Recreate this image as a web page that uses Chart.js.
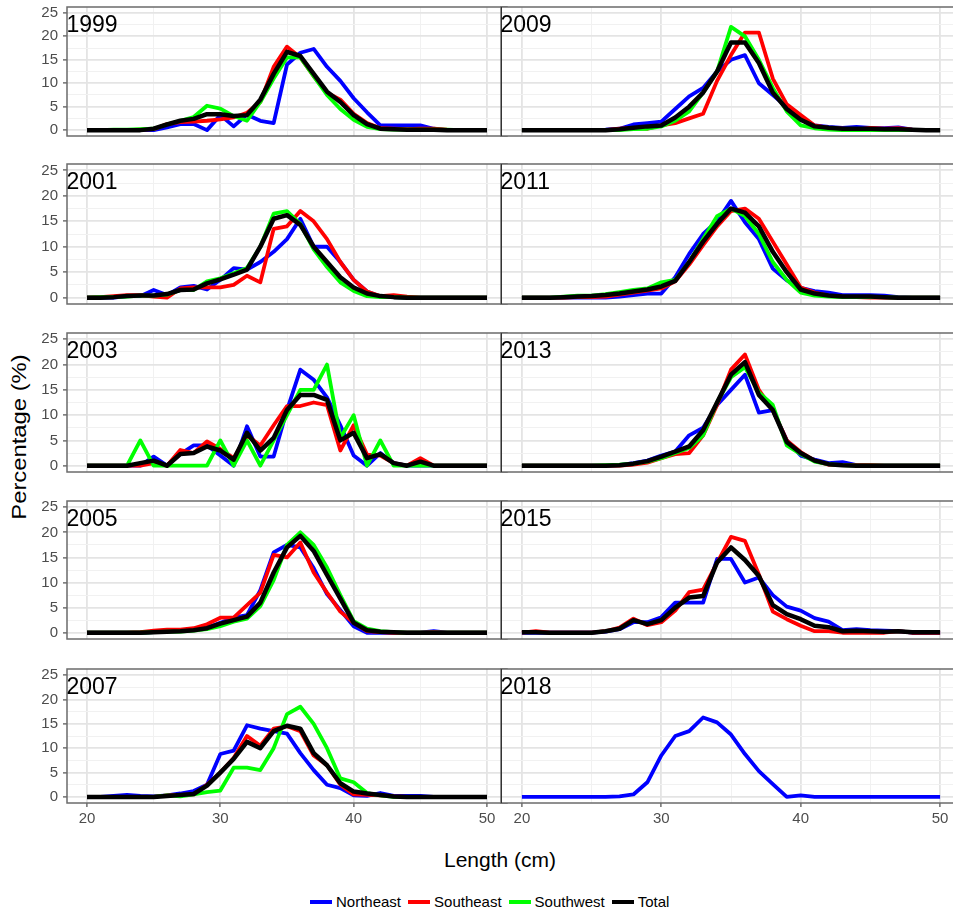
<!DOCTYPE html>
<html>
<head>
<meta charset="utf-8">
<title>Length frequency by region</title>
<script src="https://cdn.jsdelivr.net/npm/chart.js@4.4.1/dist/chart.umd.min.js"></script>
<style>
  html, body { margin: 0; padding: 0; background: #fff; overflow: hidden; }
  body { width: 953px; height: 915px; position: relative; font-family: "Liberation Sans", Arial, sans-serif; }
  canvas { position: absolute; }
  .year { position: absolute; font-size: 23px; line-height: 23px; color: #000; z-index: 5; white-space: nowrap; }
  #xTitle { position: absolute; left: 400px; width: 200px; top: 849px; text-align: center; font-size: 21px; line-height: 21px; color: #000; }
  #yTitle { position: absolute; left: -81px; width: 200px; top: 427px; height: 20px; text-align: center; font-size: 20px; line-height: 20px; color: #000; transform: rotate(-90deg) scaleX(1.19); }
  #legend { position: absolute; left: 310px; top: 893px; display: flex; align-items: center; font-size: 15px; line-height: 18px; color: #000; }
  #legend .key { display: inline-block; width: 22px; height: 4px; margin-right: 4px; }
  #legend .name { margin-right: 7px; }
</style>
</head>
<body>
<div id="xTitle">Length (cm)</div>
<div id="yTitle">Percentage (%)</div>
<div id="legend"></div>
<script>
// Length classes (cm) and axis ticks
const lengths = [20, 21, 22, 23, 24, 25, 26, 27, 28, 29, 30, 31, 32, 33, 34, 35, 36, 37, 38, 39, 40, 41, 42, 43, 44, 45, 46, 47, 48, 49, 50];
const xTicks = [20, 30, 40, 50];
const yTicks = [0, 5, 10, 15, 20, 25];
const regions = ['Northeast', 'Southeast', 'Southwest', 'Total'];
const regionColors = ['#0000ff', '#ff0000', '#00ff00', '#000000'];

// 1999
const northeast1999 = [0, 0, 0, 0, 0, 0, 0.6, 1.3, 1.3, 0, 3.2, 0.8, 3.3, 2.0, 1.5, 14, 16.5, 17.3, 13.5, 10.5, 6.8, 3.8, 1.0, 1.0, 1.0, 1.0, 0.3, 0, 0, 0, 0];
const southeast1999 = [0, 0, 0, 0, 0.1, 0.2, 1.3, 1.7, 1.8, 2.0, 2.3, 2.7, 3.7, 6, 13.5, 17.8, 15.5, 11.5, 8, 6.5, 3.5, 1.5, 0.4, 0.3, 0.2, 0.3, 0.3, 0.1, 0, 0, 0];
const southwest1999 = [0, 0, 0.1, 0.1, 0.2, 0.3, 1.2, 2, 2.8, 5.2, 4.6, 3.0, 2.0, 6, 11, 15.5, 15.5, 11.5, 7.5, 4.5, 2.2, 0.7, 0.2, 0.1, 0.1, 0.1, 0.1, 0.1, 0, 0, 0];
const total1999 = [0, 0, 0, 0, 0, 0.3, 1.2, 2.0, 2.4, 3.4, 3.4, 3.0, 3.2, 6.5, 12, 16.7, 15.8, 12, 8.2, 6, 3.2, 1.3, 0.3, 0.2, 0.1, 0.1, 0.1, 0, 0, 0, 0];

// 2001
const northeast2001 = [0, 0, 0, 0.3, 0.3, 1.5, 0.5, 2.0, 2.3, 1.6, 3.5, 5.8, 5.5, 7, 9, 11.5, 15.5, 10, 10, 7, 3.5, 1.2, 0.2, 0.1, 0, 0, 0, 0, 0, 0, 0];
const southeast2001 = [0, 0.1, 0.3, 0.5, 0.5, 0.2, 0, 1.8, 2, 2, 2, 2.5, 4.3, 3, 13.5, 14, 17, 15, 11.5, 7, 3.5, 1.2, 0.3, 0.5, 0.2, 0, 0, 0, 0, 0, 0];
const southwest2001 = [0, 0.1, 0.1, 0.2, 0.4, 0.4, 0.6, 1.5, 1.5, 3.2, 3.8, 4.8, 5.8, 10, 16.5, 17, 14.5, 9.5, 6, 3, 1.3, 0.3, 0.1, 0.1, 0, 0, 0, 0, 0, 0, 0];
const total2001 = [0, 0, 0.1, 0.3, 0.4, 0.4, 0.7, 1.5, 1.6, 2.8, 3.6, 4.5, 5.5, 10, 15.5, 16.2, 14.3, 10, 7, 4, 2, 0.8, 0.3, 0.1, 0, 0, 0, 0, 0, 0, 0];

// 2003
const northeast2003 = [0, 0, 0, 0, 0, 1.8, 0, 2.3, 4, 4, 2, 0, 7.8, 1.8, 1.8, 11, 19, 17, 13.5, 8, 2, 0, 2.5, 0.5, 0, 0, 0, 0, 0, 0, 0];
const southeast2003 = [0, 0, 0, 0, 0, 0.5, 0, 3.1, 2.5, 4.8, 3.3, 1.5, 6, 4, 8, 11.8, 11.8, 12.5, 12, 3, 8, 2.2, 2, 0.5, 0, 1.5, 0, 0, 0, 0, 0];
const southwest2003 = [0, 0, 0, 0, 5, 0, 0, 0, 0, 0, 5, 0, 5, 0, 5, 10, 15, 15, 20, 5.5, 10, 0, 5, 0, 0, 0, 0, 0, 0, 0, 0];
const total2003 = [0, 0, 0, 0, 0.5, 1.0, 0, 2.3, 2.5, 3.8, 3.0, 1.2, 6.5, 3.0, 5.5, 11, 14, 14, 13, 5, 6.5, 1.5, 2.3, 0.5, 0, 0.8, 0, 0, 0, 0, 0];

// 2005
const northeast2005 = [0, 0, 0, 0, 0, 0.1, 0.3, 0.4, 0.5, 1.0, 2.0, 3, 3.5, 8.5, 16, 17.5, 17, 12.9, 7.7, 4.5, 1.3, 0, 0, 0, 0, 0, 0.3, 0, 0, 0, 0];
const southeast2005 = [0, 0, 0, 0, 0.1, 0.4, 0.6, 0.6, 0.9, 1.7, 3.0, 3.0, 5.5, 8, 15.5, 15, 18, 12, 8, 4.2, 2, 0.3, 0.1, 0, 0, 0, 0.1, 0, 0, 0, 0];
const southwest2005 = [0, 0, 0, 0, 0, 0.1, 0.2, 0.2, 0.4, 0.7, 1.3, 2.2, 2.8, 5.3, 10.5, 17.5, 20, 17.5, 13, 7.5, 2.3, 0.8, 0.3, 0.1, 0, 0, 0, 0, 0, 0, 0];
const total2005 = [0, 0, 0, 0, 0, 0.1, 0.2, 0.3, 0.5, 0.9, 1.8, 2.5, 3.2, 6, 12, 17, 19.3, 16.3, 11.5, 6.8, 2, 0.5, 0.2, 0.1, 0, 0, 0, 0, 0, 0, 0];

// 2007
const northeast2007 = [0, 0, 0.2, 0.4, 0.2, 0.1, 0.3, 0.7, 1.2, 2.5, 8.8, 9.5, 14.7, 14, 13.5, 13, 9, 5.5, 2.5, 1.8, 0.3, 0.2, 0.8, 0.2, 0.2, 0.2, 0, 0, 0, 0, 0];
const southeast2007 = [0, 0, 0, 0, 0, 0, 0.3, 0.4, 0.5, 2.5, 5, 8, 12.5, 10.5, 14, 14.5, 13.5, 8.5, 6.5, 2.5, 0.5, 0.4, 0.3, 0.1, 0, 0, 0, 0, 0, 0, 0];
const southwest2007 = [0, 0, 0, 0, 0, 0, 0.3, 0.1, 0.5, 1.0, 1.3, 6, 6, 5.5, 10, 17, 18.5, 15, 10, 3.8, 3, 0.8, 0.3, 0, 0, 0, 0, 0, 0, 0, 0];
const total2007 = [0, 0, 0, 0, 0, 0, 0.2, 0.4, 0.6, 2.3, 5, 7.8, 11.3, 10, 13.5, 14.6, 14, 9, 6.5, 2.8, 1.1, 0.7, 0.4, 0.1, 0, 0, 0, 0, 0, 0, 0];

// 2009
const northeast2009 = [0, 0, 0, 0, 0, 0, 0.1, 0.3, 1.2, 1.5, 1.8, 4.5, 7.2, 9, 12.5, 15, 16, 10, 7.5, 5, 2.5, 1, 0.7, 0.5, 0.7, 0.5, 0.4, 0.6, 0.1, 0, 0];
const southeast2009 = [0, 0, 0, 0, 0, 0, 0, 0.3, 0.5, 0.3, 1.0, 1.5, 2.5, 3.5, 10.5, 16, 20.8, 20.8, 11, 5.5, 3.2, 1.0, 0.5, 0.3, 0.1, 0.5, 0.3, 0.4, 0.1, 0, 0];
const southwest2009 = [0, 0, 0, 0, 0, 0, 0, 0, 0.2, 0.3, 0.8, 2, 4, 8, 12.5, 22, 20, 15, 9, 4, 1.0, 0.4, 0.1, 0, 0, 0, 0, 0, 0, 0, 0];
const total2009 = [0, 0, 0, 0, 0, 0, 0, 0.2, 0.5, 0.8, 1.0, 2.7, 5.0, 8.0, 12.5, 18.7, 18.7, 14.3, 8, 4.5, 2.2, 0.8, 0.5, 0.3, 0.3, 0.3, 0.2, 0.2, 0.1, 0, 0];

// 2011
const northeast2011 = [0, 0, 0, 0, 0, 0, 0, 0.2, 0.5, 0.8, 0.8, 4, 8.6, 12.5, 15, 19, 14.8, 11.5, 5.7, 3.4, 1.9, 1.3, 1.0, 0.5, 0.5, 0.5, 0.4, 0.1, 0, 0, 0];
const southeast2011 = [0, 0, 0, 0, 0.1, 0.1, 0.2, 0.6, 1.0, 1.4, 1.8, 3.2, 6.5, 10.3, 14, 17, 17.5, 15.5, 11, 6.5, 2.0, 1.0, 0.4, 0.2, 0.1, 0, 0, 0, 0, 0, 0];
const southwest2011 = [0, 0, 0, 0.2, 0.4, 0.4, 0.7, 1.1, 1.5, 1.8, 3.0, 3.5, 7, 11.5, 16, 17.5, 16, 12.5, 7, 3.5, 1.0, 0.4, 0.2, 0.1, 0.1, 0.1, 0.1, 0, 0, 0, 0];
const total2011 = [0, 0, 0, 0.1, 0.2, 0.3, 0.5, 0.8, 1.2, 1.6, 2.2, 3.3, 7, 11, 14.5, 17.5, 16.7, 14, 9, 5, 1.6, 0.8, 0.4, 0.2, 0.2, 0.2, 0.1, 0, 0, 0, 0];

// 2013
const northeast2013 = [0, 0, 0, 0, 0, 0, 0, 0.1, 0.5, 1.0, 2, 2.8, 6, 7.5, 12, 15, 18, 10.5, 11, 5, 2, 1.2, 0.5, 0.7, 0.1, 0, 0, 0, 0, 0, 0];
const southeast2013 = [0, 0, 0, 0, 0, 0, 0, 0, 0.2, 0.6, 1.5, 2.3, 2.5, 6, 12, 19, 22, 15, 11, 5, 2.7, 1.0, 0.2, 0.1, 0.1, 0.1, 0, 0, 0, 0, 0];
const southwest2013 = [0, 0, 0, 0, 0, 0, 0.1, 0.2, 0.4, 0.8, 1.5, 2.5, 3.5, 6, 12.5, 17.5, 19.5, 14.5, 12, 4, 2.3, 0.8, 0.3, 0.1, 0, 0, 0, 0, 0, 0, 0];
const total2013 = [0, 0, 0, 0, 0, 0, 0, 0.1, 0.4, 0.9, 1.8, 2.8, 3.8, 7, 12.5, 18, 20.5, 14, 11, 4.7, 2.5, 1.0, 0.3, 0.1, 0, 0, 0, 0, 0, 0, 0];

// 2015 (no Southwest sample)
const northeast2015 = [0, 0, 0, 0, 0, 0, 0.2, 0.7, 2.1, 2.1, 3.1, 6, 6, 6, 14.7, 14.7, 10, 11, 7.5, 5.2, 4.4, 2.9, 2.2, 0.5, 0.7, 0.5, 0.4, 0.3, 0, 0, 0];
const southeast2015 = [0, 0.3, 0, 0, 0, 0, 0.3, 1.0, 2.8, 1.5, 2.1, 4.4, 8.1, 8.6, 13.9, 19.1, 18.3, 11.6, 4.2, 2.7, 1.4, 0.3, 0.3, 0, 0, 0, 0, 0.3, 0, 0, 0];
const southwest2015 = null;
const total2015 = [0.1, 0.1, 0, 0, 0, 0, 0.3, 0.8, 2.5, 1.7, 2.5, 5, 7, 7.3, 14, 17, 14.5, 11.3, 5.5, 3.7, 2.7, 1.4, 1.1, 0.3, 0.4, 0.3, 0.2, 0.3, 0.1, 0.1, 0.1];

// 2018 (Northeast only)
const northeast2018 = [0, 0, 0, 0, 0, 0, 0, 0.1, 0.5, 3, 8.5, 12.5, 13.5, 16.3, 15.3, 12.8, 8.8, 5.3, 2.6, 0, 0.3, 0, 0, 0, 0, 0, 0, 0, 0, 0, 0];

const panels = [
    { year: '1999', col: 0, row: 0, series: [northeast1999, southeast1999, southwest1999, total1999] },
    { year: '2001', col: 0, row: 1, series: [northeast2001, southeast2001, southwest2001, total2001] },
    { year: '2003', col: 0, row: 2, series: [northeast2003, southeast2003, southwest2003, total2003] },
    { year: '2005', col: 0, row: 3, series: [northeast2005, southeast2005, southwest2005, total2005] },
    { year: '2007', col: 0, row: 4, series: [northeast2007, southeast2007, southwest2007, total2007] },
    { year: '2009', col: 1, row: 0, series: [northeast2009, southeast2009, southwest2009, total2009] },
    { year: '2011', col: 1, row: 1, series: [northeast2011, southeast2011, southwest2011, total2011] },
    { year: '2013', col: 1, row: 2, series: [northeast2013, southeast2013, southwest2013, total2013] },
    { year: '2015', col: 1, row: 3, series: [northeast2015, southeast2015, southwest2015, total2015] },
    { year: '2018', col: 1, row: 4, series: [northeast2018, null, null, null] }
];

// Panel geometry (plot area edges in page pixels)
const PAD = 18;
const rowBounds = [[7, 136], [164, 304], [333, 472], [501, 639], [669, 803]];
const colBounds = [[67, 507], [501, 961]];
const Y_AXIS_W = 49;
const X_AXIS_H = 26;

// gridlines: major ticks plus the minor midpoints between them
function withMinor(major) {
    const out = [];
    major.forEach((v, i) => {
        out.push(v);
        if (i < major.length - 1) out.push((v + major[i + 1]) / 2);
    });
    return out;
}
const xGrid = withMinor(xTicks);
const yGrid = withMinor(yTicks);

const isMajorX = v => xTicks.includes(v);
const isMajorY = v => yTicks.includes(v);

Chart.defaults.font.family = '"Liberation Sans", Arial, sans-serif';

// White plot background and grey panel frame (like a ggplot facet)
const panelFrame = {
    id: 'panelFrame',
    beforeDraw(chart) {
        const a = chart.chartArea, c = chart.ctx;
        c.save();
        c.fillStyle = '#ffffff';
        c.fillRect(a.left, a.top, a.right - a.left, a.bottom - a.top);
        c.restore();
    },
    afterDatasetsDraw(chart, args, opts) {
        const a = chart.chartArea, c = chart.ctx;
        c.save();
        c.strokeStyle = '#6b6b6b';
        c.lineWidth = 1.5;
        c.strokeRect(a.left, a.top, a.right - a.left, a.bottom - a.top);
        if (opts.darkLeft) {
            c.strokeStyle = '#333333';
            c.lineWidth = 1;
            c.beginPath();
            c.moveTo(a.left + 0.5, a.top);
            c.lineTo(a.left + 0.5, a.bottom);
            c.stroke();
        }
        c.restore();
    }
};

function drawPanel(panel) {
    const [y0, y1] = rowBounds[panel.row];
    const [x0, x1] = colBounds[panel.col];
    const showY = panel.col === 0;
    const showX = panel.row === rowBounds.length - 1;
    const yW = showY ? Y_AXIS_W : 0;
    const xH = showX ? X_AXIS_H : 0;

    const canvas = document.createElement('canvas');
    const w = (x1 - x0) + yW + 2 * PAD;
    const h = (y1 - y0) + xH + 2 * PAD;
    canvas.width = w;
    canvas.height = h;
    canvas.style.left = (x0 - yW - PAD) + 'px';
    canvas.style.top = (y0 - PAD) + 'px';
    canvas.style.width = w + 'px';
    canvas.style.height = h + 'px';
    canvas.style.zIndex = panel.col + 1;
    document.body.appendChild(canvas);

    // Total drawn last (on top), Northeast first
    const datasets = [];
    panel.series.forEach((vals, k) => {
        if (!vals) return;
        datasets.push({
            label: regions[k],
            data: lengths.map((x, i) => ({ x: x, y: vals[i] })),
            borderColor: regionColors[k],
            borderWidth: k === 3 ? 4.5 : 3.8,
            borderJoinStyle: 'round',
            pointRadius: 0,
            tension: 0,
            fill: false,
            order: regions.length - 1 - k
        });
    });

    new Chart(canvas.getContext('2d'), {
        type: 'line',
        data: { datasets: datasets },
        plugins: [panelFrame],
        options: {
            responsive: false,
            animation: false,
            events: [],
            layout: { padding: PAD },
            plugins: {
                legend: { display: false },
                tooltip: { enabled: false },
                panelFrame: { darkLeft: panel.col === 1 }
            },
            scales: {
                x: {
                    type: 'linear',
                    min: 18.5,
                    max: 51.5,
                    afterBuildTicks: s => { s.ticks = xGrid.map(v => ({ value: v })); },
                    afterFit: s => { s.height = xH; },
                    border: { display: false },
                    grid: {
                        color: ctx => ctx.tick && isMajorX(ctx.tick.value) ? '#e4e4e4' : '#f1f1f1',
                        lineWidth: ctx => ctx.tick && isMajorX(ctx.tick.value) ? 1.8 : 1,
                        drawTicks: showX,
                        tickLength: 4,
                        tickWidth: 1.2,
                        tickColor: ctx => ctx.tick && isMajorX(ctx.tick.value) ? '#4d4d4d' : 'rgba(0,0,0,0)'
                    },
                    ticks: {
                        display: showX,
                        autoSkip: false,
                        maxRotation: 0,
                        padding: 3,
                        color: '#4d4d4d',
                        font: { size: 15 },
                        callback: v => isMajorX(v) ? String(v) : ''
                    }
                },
                y: {
                    type: 'linear',
                    min: -1.25,
                    max: 26.25,
                    afterBuildTicks: s => { s.ticks = yGrid.map(v => ({ value: v })); },
                    afterFit: s => { s.width = yW; },
                    border: { display: false },
                    grid: {
                        color: ctx => ctx.tick && isMajorY(ctx.tick.value) ? '#e4e4e4' : '#f1f1f1',
                        lineWidth: ctx => ctx.tick && isMajorY(ctx.tick.value) ? 1.8 : 1,
                        drawTicks: showY,
                        tickLength: 4,
                        tickWidth: 1.2,
                        tickColor: ctx => ctx.tick && isMajorY(ctx.tick.value) ? '#4d4d4d' : 'rgba(0,0,0,0)'
                    },
                    ticks: {
                        display: showY,
                        autoSkip: false,
                        padding: 5,
                        color: '#4d4d4d',
                        font: { size: 15 },
                        callback: v => isMajorY(v) ? String(v) : ''
                    }
                }
            }
        }
    });

    // facet label in the top-left corner of the panel
    const label = document.createElement('div');
    label.className = 'year';
    label.textContent = panel.year;
    label.style.left = (x0 - 0.5) + 'px';
    label.style.top = (y0 + 5.5) + 'px';
    document.body.appendChild(label);
}

panels.forEach(drawPanel);

// Legend below the panels
const legend = document.getElementById('legend');
regions.forEach((name, k) => {
    const key = document.createElement('span');
    key.className = 'key';
    key.style.background = regionColors[k];
    const text = document.createElement('span');
    text.className = 'name';
    text.textContent = name;
    legend.appendChild(key);
    legend.appendChild(text);
});
</script>
</body>
</html>
